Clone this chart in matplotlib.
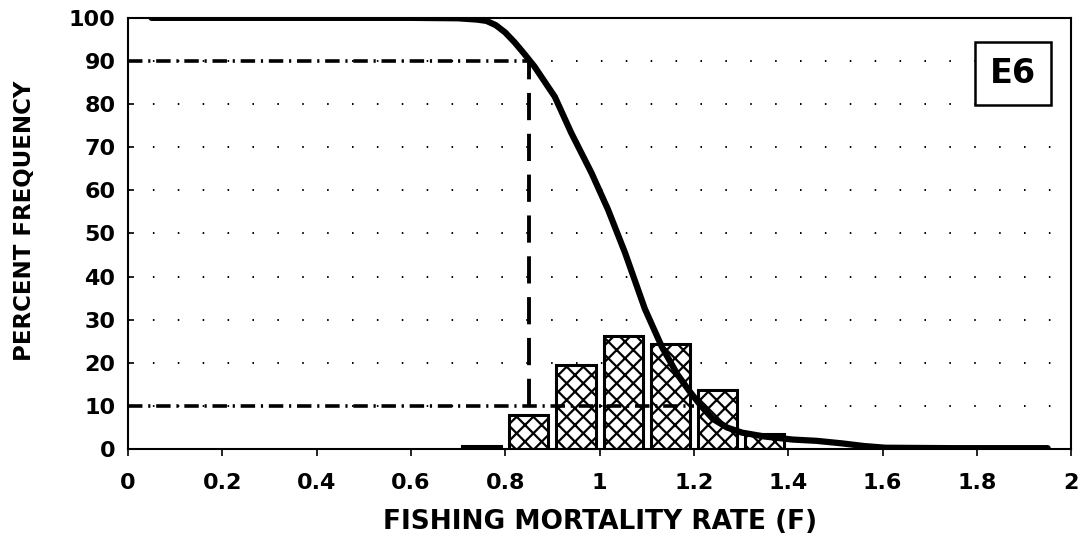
import matplotlib
matplotlib.use("Agg")
import matplotlib.pyplot as plt

# cumulative curve (percent of runs with F above value)
curve_f = [0.05, 0.30, 0.60, 0.70, 0.74, 0.76, 0.78, 0.80, 0.82, 0.84, 0.862,
           0.905, 0.940, 0.983, 1.018, 1.054, 1.075, 1.096, 1.132, 1.165,
           1.190, 1.215, 1.240, 1.270, 1.302, 1.350, 1.409, 1.460, 1.515,
           1.560, 1.606, 1.750, 1.950]
curve_pct = [100, 100, 100, 99.9, 99.6, 99.3, 98.3, 96.6, 94.3, 91.7, 88.7,
             81.7, 73.3, 64.0, 55.5, 45.5, 39.0, 32.5, 23.7, 17.3,
             13.5, 10.0, 7.0, 5.0, 3.8, 2.9, 2.2, 1.9, 1.3,
             0.7, 0.3, 0.2, 0.2]

# frequency histogram
bar_f = [0.75, 0.85, 0.95, 1.05, 1.15, 1.25, 1.35]
bar_pct = [0.8, 7.8, 19.5, 26.2, 24.3, 13.7, 3.5]

# 90% / 10% reference points
f_at_90 = 0.851
f_at_10 = 1.20
x_ticks = [0, 0.2, 0.4, 0.6, 0.8, 1, 1.2, 1.4, 1.6, 1.8, 2]
x_ticklabels = ["0", "0.2", "0.4", "0.6", "0.8", "1", "1.2", "1.4", "1.6", "1.8", "2"]
y_ticks = list(range(0, 101, 10))

plt.rcParams["hatch.linewidth"] = 1.6

fig = plt.figure(figsize=(10.88, 5.41), dpi=100)
ax = fig.add_axes([0.1176, 0.170, 0.867, 0.797])

# dotted gridlines
for y in range(10, 100, 10):
    ax.axhline(y, color="black", lw=1.4, linestyle=(0, (0.8, 12)), zorder=0)

ax.bar(bar_f, bar_pct, width=0.083, color="white", edgecolor="black",
       hatch="xx", linewidth=2.2, zorder=2)

dashdot = (0, (4, 1.6, 0.6, 1.6))
ax.plot([0, f_at_90], [90, 90], color="black", lw=2.6, linestyle=dashdot, zorder=3)
ax.plot([0, f_at_10], [10, 10], color="black", lw=2.6, linestyle=dashdot, zorder=3)
ax.plot([f_at_90, f_at_90], [10, 90], color="black", lw=2.8,
        linestyle=(0, (7, 3.5)), zorder=3)

ax.plot(curve_f, curve_pct, color="black", lw=4.5, solid_capstyle="round",
        solid_joinstyle="round", zorder=4)

ax.set_xlim(0, 2)
ax.set_ylim(0, 100)
ax.set_xticks(x_ticks)
ax.set_xticklabels(x_ticklabels)
ax.set_yticks(y_ticks)
for s in ax.spines.values():
    s.set_linewidth(1.5)
ax.tick_params(axis="x", direction="out", length=5, width=1.2, pad=12,
               labelsize=16)
ax.tick_params(axis="y", direction="in", length=4, width=1.2, pad=9,
               labelsize=16)
for lab in ax.get_xticklabels() + ax.get_yticklabels():
    lab.set_fontweight("bold")

ax.set_xlabel("FISHING MORTALITY RATE (F)", fontsize=19, fontweight="bold",
              labelpad=12)
ax.set_ylabel("PERCENT FREQUENCY", fontsize=16.5, fontweight="bold")
ax.yaxis.set_label_coords(-0.097, 0.53)

ax.text(0.938, 0.872, "E6", transform=ax.transAxes, fontsize=24,
        fontweight="bold", ha="center", va="center", zorder=5,
        bbox=dict(boxstyle="square,pad=0.45", fc="white", ec="black", lw=1.8))

fig.savefig("out.png", dpi=100)
